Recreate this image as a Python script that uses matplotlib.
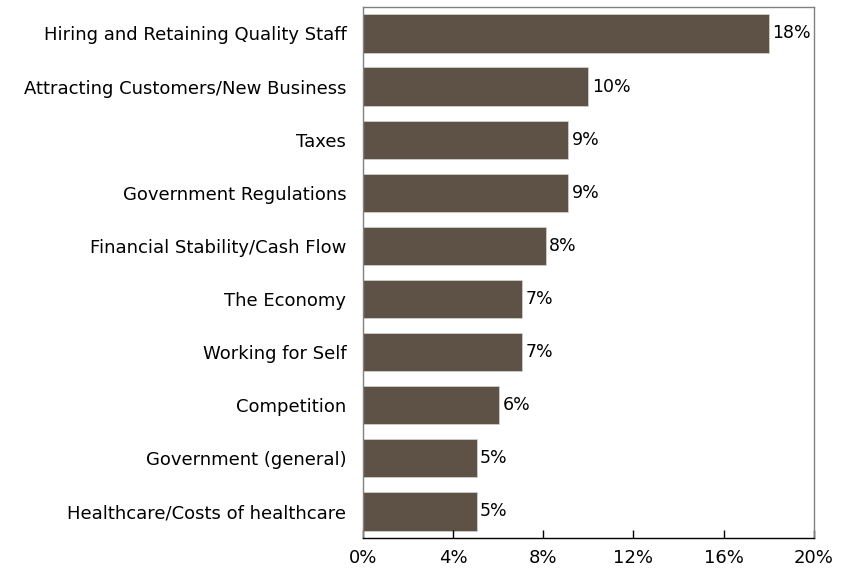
import matplotlib.pyplot as plt
import numpy as np

plt.rcParams['font.family'] = ['DejaVu Sans']

categories = ['Hiring and Retaining Quality Staff',
              'Attracting Customers/New Business',
              'Taxes',
              'Government Regulations',
              'Financial Stability/Cash Flow',
              'The Economy',
              'Working for Self',
              'Competition',
              'Government (general)',
              'Healthcare/Costs of healthcare']
values = [18.0, 10.0, 9.1, 9.1, 8.1, 7.05, 7.05, 6.05, 5.05, 5.05]
ticks = [0, 4, 8, 12, 16, 20]

bar_color = '#5e5247'

fig = plt.figure(figsize=(8.46, 5.77), dpi=100)
ax = fig.add_axes([0.429, 0.0676, 0.533, 0.9204])

y = np.arange(len(categories))
ax.barh(y, values, height=0.72, color=bar_color, edgecolor='#d8d4d0', linewidth=0.5)

for yi, v in zip(y, values):
    ax.text(v + 0.15, yi, f'{round(v):.0f}%', va='center', ha='left', fontsize=12.5)

ax.set_ylim(9.5, -0.5)
ax.set_xlim(0, 20)
ax.set_yticks(y)
ax.set_yticklabels(categories, fontsize=13)
ax.set_xticks(ticks)
ax.set_xticklabels([f'{t}%' for t in ticks], fontsize=13)

ax.tick_params(axis='y', length=0, pad=12)
ax.tick_params(axis='x', direction='in', length=6, width=1, color='black', pad=8)

for side in ['top', 'right', 'left']:
    ax.spines[side].set_color('#808080')
    ax.spines[side].set_linewidth(1)
ax.spines['bottom'].set_color('black')
ax.spines['bottom'].set_linewidth(1)

fig.savefig('out.png', dpi=100)
